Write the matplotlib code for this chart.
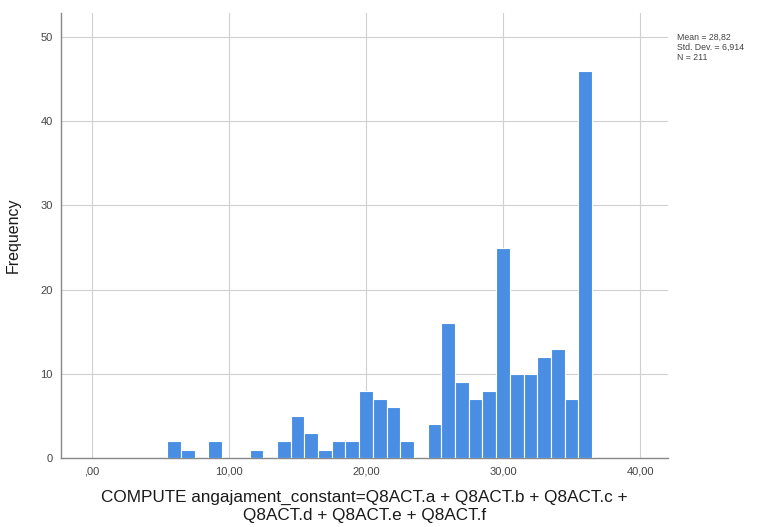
import matplotlib.pyplot as plt
import numpy as np

plt.rcParams['font.family'] = ['Liberation Sans', 'DejaVu Sans']

# valori citite din histograma (centrul fiecarui bin, latime 1)
bin_centers = list(range(6, 37))
counts = [2, 1, 0, 2, 0, 0, 1, 0, 2, 5, 3, 1, 2, 2, 8, 7, 6, 2, 0, 4,
          16, 9, 7, 8, 25, 10, 10, 12, 13, 7, 46]
x_ticks = [0, 10, 20, 30, 40]
x_labels = [',00', '10,00', '20,00', '30,00', '40,00']
y_ticks = [0, 10, 20, 30, 40, 50]
stats_text = 'Mean = 28,82\nStd. Dev. = 6,914\nN = 211'

fig = plt.figure(figsize=(7.65, 5.27), dpi=100)
ax = fig.add_axes([0.0797, 0.1309, 0.7935, 0.8444])

ax.bar(bin_centers, counts, width=1.0, color='#4a8ee4', edgecolor='white',
       linewidth=0.8, zorder=3)

ax.set_xlim(-2.26, 42.04)
ax.set_ylim(0, 52.85)
ax.set_xticks(x_ticks)
ax.set_xticklabels(x_labels)
ax.set_yticks(y_ticks)
ax.grid(True, color='#d0d0d0', linewidth=0.8, zorder=0)
ax.tick_params(length=0, labelsize=8, colors='#444444', pad=6)

for side in ['top', 'right']:
    ax.spines[side].set_visible(False)
for side in ['left', 'bottom']:
    ax.spines[side].set_color('#888888')
    ax.spines[side].set_linewidth(1.0)

ax.set_ylabel('Frequency', fontsize=11.5, color='#1a1a1a', labelpad=14)
ax.set_xlabel('COMPUTE angajament_constant=Q8ACT.a + Q8ACT.b + Q8ACT.c +\nQ8ACT.d + Q8ACT.e + Q8ACT.f',
              fontsize=12.3, color='#1a1a1a', labelpad=10, linespacing=1.25)

fig.text(0.885, 0.937, stats_text, fontsize=6.3, color='#444444',
         va='top', ha='left', linespacing=1.15)

plt.savefig('out.png', dpi=100)
